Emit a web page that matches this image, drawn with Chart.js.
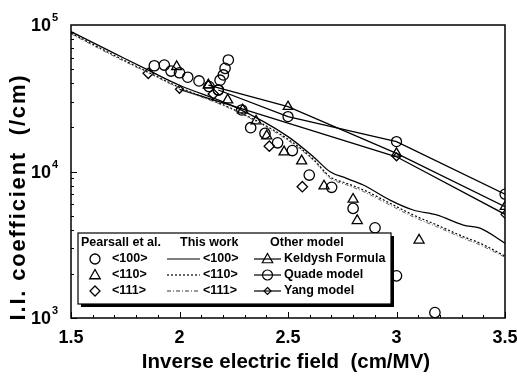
<!DOCTYPE html>
<html>
<head>
<meta charset="utf-8">
<script src="https://cdn.jsdelivr.net/npm/chart.js@4/dist/chart.umd.min.js"></script>
<style>
  html, body { margin: 0; padding: 0; background: #fff; }
  canvas { display: block; }
</style>
</head>
<body>
<canvas id="myChart" width="517" height="378"></canvas>
<script>
/*
 * DATA
 */
	// Pearsall et al. measurements
	var p100X = [1.884, 1.93, 1.961, 2.0, 2.038, 2.09, 2.136, 2.179, 2.187, 2.202, 2.21, 2.225, 2.287, 2.328, 2.394, 2.452, 2.52, 2.598, 2.701, 2.80, 2.901, 3.0, 3.177];
	var p100Y = [5.27e4, 5.33e4, 4.85e4, 4.72e4, 4.4e4, 4.15e4, 3.8e4, 3.6e4, 4.2e4, 4.56e4, 5.06e4, 5.77e4, 2.63e4, 1.99e4, 1.82e4, 1.57e4, 1.39e4, 9.46e3, 7.8e3, 5.6e3, 4.13e3, 1.94e3, 1.09e3];
	var p110X = [1.987, 2.133, 2.222, 2.291, 2.353, 2.402, 2.482, 2.563, 2.666, 2.80, 2.819, 3.104];
	var p110Y = [5.2e4, 3.89e4, 3.08e4, 2.63e4, 2.21e4, 1.75e4, 1.36e4, 1.18e4, 7.96e3, 6.46e3, 4.62e3, 3.4e3];
	var p111X = [1.856, 2.156, 2.414, 2.566];
	var p111Y = [4.68e4, 3.38e4, 1.49e4, 7.87e3];

	// This work
	var workX    = [1.5, 1.7, 1.87, 2.0, 2.25, 2.5, 2.617, 2.694, 2.77, 2.847, 2.97, 3.077, 3.185, 3.308, 3.385, 3.5];
	var work100Y = [9.0e4, 6.4e4, 4.8e4, 3.88e4, 2.78e4, 1.73e4, 1.26e4, 9.97e3, 8.98e3, 8.09e3, 6.38e3, 5.46e3, 5.05e3, 4.31e3, 4.1e3, 3.24e3];
	var work110Y = [8.8e4, 6.2e4, 4.65e4, 3.75e4, 2.65e4, 1.66e4, 1.21e4, 9.2e3, 8.3e3, 7.5e3, 6.07e3, 5.05e3, 4.32e3, 3.59e3, 3.24e3, 2.65e3];
	var work111Y = [8.7e4, 6.1e4, 4.6e4, 3.7e4, 2.62e4, 1.63e4, 1.19e4, 9.0e3, 8.1e3, 7.3e3, 5.9e3, 4.9e3, 4.2e3, 3.5e3, 3.15e3, 2.6e3];

	// Other models
	var keldyshX = [2.133, 2.5, 3.0, 3.5];
	var keldyshY = [3.89e4, 2.77e4, 1.33e4, 5.75e3];
	var quadeX   = [2.179, 2.5, 3.0, 3.5];
	var quadeY   = [3.6e4, 2.37e4, 1.6e4, 7.0e3];
	var yangX    = [2.0, 3.0, 3.5];
	var yangY    = [3.64e4, 1.26e4, 5.1e3];

	// Axes
	var xTicks = [1.5, 2, 2.5, 3, 3.5];
	var yTicks = [1e3, 1e4, 1e5];
	var yTickExp = ['3', '4', '5'];

	function pts(xs, ys) {
		return xs.map(function(x, i) { return {x: x, y: ys[i]}; });
	}

/*
 * FRAME, TICKS, TITLES AND LEGEND
 */
	var FONT = '"Liberation Sans", Arial, sans-serif';

	function drawMarker(ctx, style, x, y, r) {
		ctx.beginPath();
		if (style == 'circle') {
			ctx.arc(x, y, r, 0, Math.PI * 2);
		} else if (style == 'triangle') {
			ctx.moveTo(x, y - r * 1.1);
			ctx.lineTo(x + r * 1.05, y + r * 0.75);
			ctx.lineTo(x - r * 1.05, y + r * 0.75);
			ctx.closePath();
		} else {
			ctx.moveTo(x, y - r);
			ctx.lineTo(x + r, y);
			ctx.lineTo(x, y + r);
			ctx.lineTo(x - r, y);
			ctx.closePath();
		}
		ctx.stroke();
	}

	var framePlugin = {
		id: 'frame',
		afterDatasetsDraw: function(chart) {
			var ctx = chart.ctx;
			var a = chart.chartArea;
			var xs = chart.scales.x, ys = chart.scales.y;
			ctx.save();
			ctx.strokeStyle = '#000';
			ctx.fillStyle = '#000';

			/* box */
			ctx.lineWidth = 1.5;
			ctx.strokeRect(a.left, a.top, a.right - a.left, a.bottom - a.top);

			/* x ticks, inward */
			ctx.lineWidth = 1;
			for (var v = 1.5; v <= 3.5001; v += 0.1) {
				var px = Math.round(xs.getPixelForValue(v)) + 0.5;
				var major = Math.abs(v * 2 - Math.round(v * 2)) < 1e-6;
				ctx.beginPath();
				ctx.moveTo(px, a.bottom);
				ctx.lineTo(px, a.bottom - (major ? 6 : 3));
				ctx.stroke();
			}
			/* y ticks, inward */
			for (var d = 3; d < 5; d++) {
				for (var m = 1; m < 10; m++) {
					var py = Math.round(ys.getPixelForValue(m * Math.pow(10, d))) + 0.5;
					ctx.beginPath();
					ctx.moveTo(a.left, py);
					ctx.lineTo(a.left + (m == 1 ? 6 : 3), py);
					ctx.stroke();
				}
			}

			/* y tick labels: 10 with exponent */
			ctx.textBaseline = 'alphabetic';
			for (var i = 0; i < yTicks.length; i++) {
				var ty = ys.getPixelForValue(yTicks[i]);
				ctx.font = 'bold 11px ' + FONT;
				ctx.textAlign = 'left';
				ctx.fillText(yTickExp[i], 52, ty - 4);
				ctx.font = 'bold 18px ' + FONT;
				ctx.textAlign = 'right';
				ctx.fillText('10', 51, ty + 6);
			}

			/* axis titles */
			ctx.font = 'bold 20.5px ' + FONT;
			ctx.textAlign = 'center';
			ctx.textBaseline = 'middle';
			ctx.fillText('Inverse electric field  (cm/MV)', 286, 362);
			ctx.save();
			ctx.translate(19, 197);
			ctx.rotate(-Math.PI / 2);
			ctx.font = 'bold 22px ' + FONT;
			ctx.letterSpacing = '1.8px';
			ctx.fillText('I.I. coefficient  (/cm)', 0, 0);
			ctx.restore();

			/* legend box with shadow */
			var L = {x: 78, y: 233, w: 313, h: 71};
			ctx.fillRect(L.x + 3, L.y + 3, L.w, L.h);
			ctx.fillStyle = '#fff';
			ctx.fillRect(L.x, L.y, L.w, L.h);
			ctx.lineWidth = 1.2;
			ctx.strokeRect(L.x, L.y, L.w, L.h);
			ctx.fillStyle = '#000';

			ctx.font = 'bold 12.5px ' + FONT;
			ctx.textAlign = 'left';
			ctx.textBaseline = 'middle';
			ctx.fillText('Pearsall et al.', 81, 243);
			ctx.fillText('This work', 180, 243);
			ctx.fillText('Other model', 270, 243);

			var rows = [259, 275, 291];
			var names = ['<100>', '<110>', '<111>'];
			var styles = ['circle', 'triangle', 'diamond'];
			var dashes = [[], [2, 2], [4, 2, 1, 2]];
			var models = ['Keldysh Formula', 'Quade model', 'Yang model'];
			var modelStyles = ['triangle', 'circle', 'diamond'];
			for (var r = 0; r < 3; r++) {
				var ry = rows[r];
				ctx.lineWidth = 1.3;
				drawMarker(ctx, styles[r], 95, ry, 5);
				ctx.fillText(names[r], 112, ry);

				ctx.setLineDash(dashes[r]);
				ctx.lineWidth = r == 2 ? 0.8 : 1.2;
				ctx.beginPath();
				ctx.moveTo(167, ry);
				ctx.lineTo(200, ry);
				ctx.stroke();
				ctx.setLineDash([]);
				ctx.fillText(names[r], 203, ry);

				ctx.lineWidth = 1.2;
				ctx.beginPath();
				ctx.moveTo(254, ry);
				ctx.lineTo(281, ry);
				ctx.stroke();
				drawMarker(ctx, modelStyles[r], 267.5, ry, modelStyles[r] == 'diamond' ? 3.5 : 5);
				ctx.fillText(models[r], 284, ry);
			}
			ctx.restore();
		}
	};

/*
 * CHART
 */
	function scatterSet(xs, ys, style, radius) {
		return {
			data: pts(xs, ys),
			showLine: false,
			pointStyle: style,
			pointRadius: radius,
			pointBorderColor: '#000',
			pointBackgroundColor: 'rgba(0,0,0,0)',
			pointBorderWidth: 1.3
		};
	}

	function curveSet(xs, ys, dash, width, color) {
		return {
			data: pts(xs, ys),
			showLine: true,
			borderColor: color,
			borderWidth: width,
			borderDash: dash,
			pointRadius: 0,
			cubicInterpolationMode: 'monotone',
			fill: false
		};
	}

	function modelSet(xs, ys, style, radius) {
		return {
			data: pts(xs, ys),
			showLine: true,
			borderColor: '#000',
			borderWidth: 1.3,
			pointStyle: style,
			pointRadius: radius,
			pointBorderColor: '#000',
			pointBackgroundColor: 'rgba(0,0,0,0)',
			pointBorderWidth: 1.3,
			tension: 0
		};
	}

	var myChart = new Chart(document.getElementById('myChart'), {
		type: 'scatter',
		data: {
			datasets: [
				curveSet(workX, work111Y, [4, 2, 1, 2], 0.9, '#555'),
				curveSet(workX, work110Y, [2, 2], 1.2, '#000'),
				curveSet(workX, work100Y, [], 1.3, '#000'),
				modelSet(keldyshX, keldyshY, 'triangle', 5.5),
				modelSet(quadeX, quadeY, 'circle', 5),
				modelSet(yangX, yangY, 'rectRot', 4),
				scatterSet(p100X, p100Y, 'circle', 5.2),
				scatterSet(p110X, p110Y, 'triangle', 5.8),
				scatterSet(p111X, p111Y, 'rectRot', 5.2)
			]
		},
		options: {
			responsive: false,
			animation: false,
			layout: { padding: { top: 25, right: 12, left: 0, bottom: 0 } },
			plugins: {
				legend: { display: false },
				tooltip: { enabled: false }
			},
			scales: {
				x: {
					type: 'linear',
					min: 1.5,
					max: 3.5,
					afterBuildTicks: function(scale) {
						scale.ticks = xTicks.map(function(v) { return {value: v}; });
					},
					afterFit: function(scale) {
						scale.height = 60;
						scale.paddingLeft = 0;
						scale.paddingRight = 0;
					},
					grid: { display: false },
					border: { display: false },
					ticks: {
						color: '#000',
						padding: 1,
						maxRotation: 0,
						font: { family: FONT, size: 18, weight: 'bold' },
						callback: function(v) { return String(v); }
					}
				},
				y: {
					type: 'logarithmic',
					min: 1000,
					max: 100000,
					afterFit: function(scale) { scale.width = 71; },
					grid: { display: false },
					border: { display: false },
					ticks: { display: false }
				}
			}
		},
		plugins: [framePlugin]
	});
</script>
</body>
</html>
